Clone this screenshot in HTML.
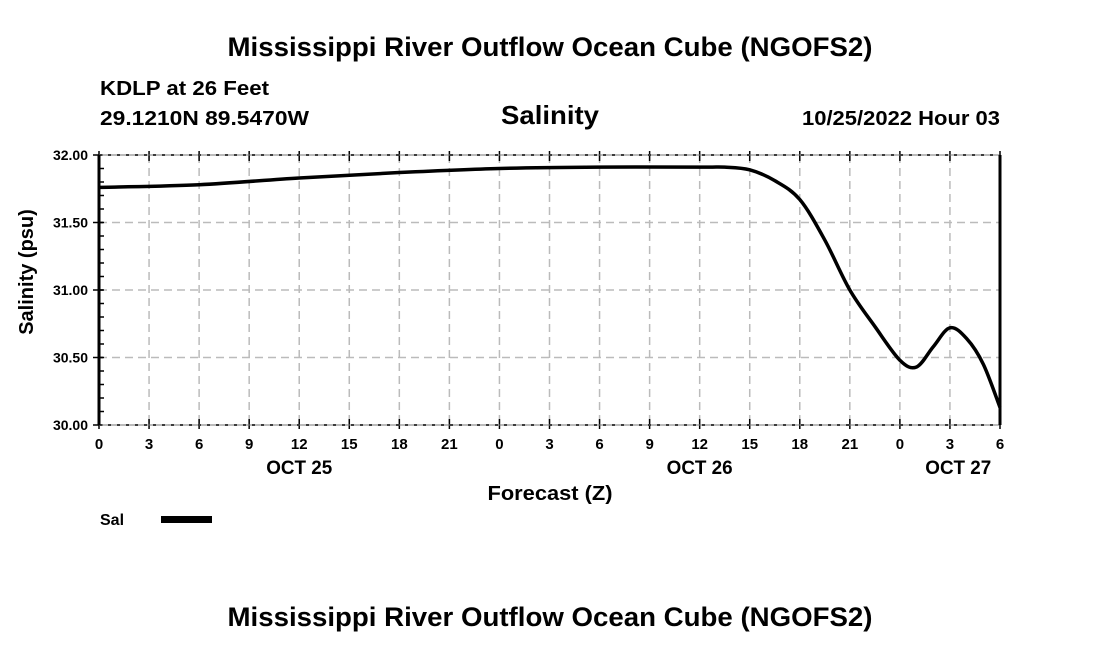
<!DOCTYPE html>
<html><head><meta charset="utf-8"><style>
body{margin:0;background:#fff;}
svg text{font-family:"Liberation Sans",sans-serif;font-weight:bold;fill:#000;}
</style></head><body>
<svg id="chart" width="1100" height="650" xmlns="http://www.w3.org/2000/svg">
<text x="550" y="56" font-size="27" text-anchor="middle" textLength="645" lengthAdjust="spacingAndGlyphs">Mississippi River Outflow Ocean Cube (NGOFS2)</text>
<text x="100" y="95" font-size="20" textLength="169" lengthAdjust="spacingAndGlyphs">KDLP at 26 Feet</text>
<text x="100" y="125" font-size="20" textLength="209" lengthAdjust="spacingAndGlyphs">29.1210N  89.5470W</text>
<text x="550" y="124" font-size="26" text-anchor="middle" textLength="98" lengthAdjust="spacingAndGlyphs">Salinity</text>
<text x="1000" y="125" font-size="20" text-anchor="end" textLength="198" lengthAdjust="spacingAndGlyphs">10/25/2022 Hour 03</text>
<text transform="translate(33,272) rotate(-90)" font-size="20" text-anchor="middle">Salinity (psu)</text>
<text x="550" y="500" font-size="20" text-anchor="middle" textLength="125" lengthAdjust="spacingAndGlyphs">Forecast (Z)</text>
<g id="grid"></g>
<g id="axes"></g>
<path id="line" fill="none" stroke="#000" stroke-width="3.5" stroke-linejoin="round"/>
<g>
<text x="100" y="525" font-size="16">Sal</text>
<rect x="161" y="516" width="51" height="7" fill="#000"/>
</g>
<text x="550" y="626" font-size="27" text-anchor="middle" textLength="645" lengthAdjust="spacingAndGlyphs">Mississippi River Outflow Ocean Cube (NGOFS2)</text>
</svg>
<script>
const hours=[0,6,12,18,24,30,36,37.5,39,40.5,42,43.5,45,46.5,48,49,50,51,52,53,54];
const salinity=[31.76,31.78,31.83,31.87,31.90,31.91,31.91,31.91,31.89,31.81,31.67,31.37,31.00,30.73,30.48,30.43,30.58,30.72,30.64,30.45,30.13];
const yTicks=[30.00,30.50,31.00,31.50,32.00];
const xTickLabels=["0","3","6","9","12","15","18","21","0","3","6","9","12","15","18","21","0","3","6"];
const dayLabels=["OCT 25","OCT 26","OCT 27"];
const dayHours=[12,36,51.5];
const L=99,R=1000,T=155,B=425;
const X=h=>L+(R-L)*h/54, Y=v=>B-(B-T)*(v-30)/2;
const NS="http://www.w3.org/2000/svg";
const grid=document.getElementById('grid'),axes=document.getElementById('axes');
function mk(tag,a,parent){const e=document.createElementNS(NS,tag);for(const k in a)e.setAttribute(k,a[k]);parent.appendChild(e);return e;}
xTickLabels.forEach((lab,i)=>{const x=X(i*3);
 if(i>0&&i<18){const g=mk('line',{x1:x,x2:x,y1:T,y2:B,stroke:'#bbb','stroke-width':1.5,'stroke-dasharray':'8,5'},grid);
 
 }
 const t1=mk('line',{x1:x,x2:x,y1:T-4,y2:T+6,stroke:'#000','stroke-width':1.5},axes);
 
 
 const t2=mk('line',{x1:x,x2:x,y1:B-6,y2:B+4,stroke:'#000','stroke-width':1.5},axes);
 
 
 const tx=mk('text',{x:x,y:449,'font-size':15,'text-anchor':'middle'},axes);tx.textContent=lab;
 
 
});
yTicks.forEach((v,i)=>{const y=Y(v);
 if(i>0&&i<yTicks.length-1){const g=mk('line',{x1:L,x2:R,y1:y,y2:y,stroke:'#bbb','stroke-width':1.5,'stroke-dasharray':'8,5'},grid);
 
 }
 const t=mk('line',{x1:L-6,x2:L+4,y1:y,y2:y,stroke:'#000','stroke-width':1.5},axes);
 
 
 const tx=mk('text',{x:L-11,y:y+5,'font-size':14,'text-anchor':'end'},axes);tx.textContent=v.toFixed(2);
 
 
});
for(let v=30.1;v<32;v+=0.1){const y=Y(v);const m=mk('line',{x1:L,x2:L+5,y1:y,y2:y,stroke:'#000','stroke-width':1.5},axes);
 
 }
[T,B].forEach(y=>{const d=mk('line',{x1:L,x2:R,y1:y,y2:y,stroke:'#000','stroke-width':2,'stroke-dasharray':'3,6'},axes);
 
 
 const d2=mk('line',{x1:L,x2:R,y1:y,y2:y,stroke:'#777','stroke-width':1},axes);
 
 });
const la=mk('line',{x1:L,x2:L,y1:T,y2:B,stroke:'#000','stroke-width':3},axes);


const ra=mk('line',{x1:R,x2:R,y1:T,y2:B,stroke:'#000','stroke-width':3},axes);


dayLabels.forEach((d,i)=>{const tx=mk('text',{x:X(dayHours[i]),y:474,'font-size':19,'text-anchor':'middle','textLength':66,'lengthAdjust':'spacingAndGlyphs'},axes);tx.textContent=d;
 
 });
const P=hours.map((h,i)=>[X(h),Y(salinity[i])]);
let d='M'+P[0][0]+','+P[0][1];
for(let i=0;i<P.length-1;i++){const p0=P[Math.max(0,i-1)],p1=P[i],p2=P[i+1],p3=P[Math.min(P.length-1,i+2)];
 const c1=[p1[0]+(p2[0]-p0[0])/6,p1[1]+(p2[1]-p0[1])/6],c2=[p2[0]-(p3[0]-p1[0])/6,p2[1]-(p3[1]-p1[1])/6];
 d+=` C${c1[0]},${c1[1]} ${c2[0]},${c2[1]} ${p2[0]},${p2[1]}`;}
document.getElementById('line').setAttribute('d',d);
</script>
</body></html>
